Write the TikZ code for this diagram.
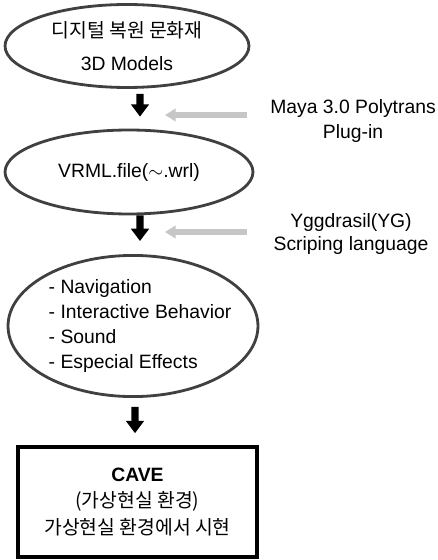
\documentclass[tikz,border=0pt]{standalone}
\usepackage{fontspec}
\setmainfont{Liberation Sans}
\newfontfamily\kr{Noto Sans CJK KR}
\usetikzlibrary{shapes.geometric,arrows.meta}

\tikzset{
  stage/.style={ellipse, draw=black!75, line width=1.6pt, inner sep=0pt,
    font=\fontsize{11}{13}\selectfont, align=center},
  cavebox/.style={rectangle, draw=black, line width=2.1pt, inner sep=0pt,
    font=\fontsize{11}{15}\selectfont, align=center},
  tool/.style={font=\fontsize{11}{10}\selectfont, align=center},
  bigarrow/.style={line width=4pt, -{Triangle[width=10pt,length=7pt]}},
  hintarrow/.style={line width=3pt, gray!45, -{Triangle[width=7pt,length=6pt]}}
}

\begin{document}
\begin{tikzpicture}[x=0.02cm, y=-0.02cm]

    % Frame of the page
    \useasboundingbox (0,0) rectangle (437,560);

    % Stages of the work flow
    \node[stage, minimum width=4.88cm, minimum height=1.66cm] (models) at (127,46)
        {{\kr 디지털 복원 문화재}\\[6pt] 3D Models};
    \node[stage, minimum width=4.96cm, minimum height=1.68cm] (vrml) at (129,172)
        {VRML.file($\sim$.wrl)};
    \node[stage, minimum width=5.0cm, minimum height=2.7cm,
        font=\fontsize{11}{14.2}\selectfont] (behav) at (133,326)
        {\makebox[0pt]{\begin{tabular}{@{\hspace{8pt}}l@{}}
          - Navigation\\- Interactive Behavior\\- Sound\\- Especial Effects
        \end{tabular}}};
    \node[cavebox, minimum width=4.78cm, minimum height=2.2cm] (cave) at (137.5,502)
        {\textbf{CAVE}\\{\kr (가상현실 환경)}\\{\kr 가상현실 환경에서 시현}};

    % Tools used between the stages
    \node[tool] (maya) at (353,121) {Maya 3.0 Polytrans\\[3pt]Plug-in};
    \node[tool] (ygg) at (351,234) {Yggdrasil(YG)\\[2pt]Scriping language};

    % Flow arrows
    \draw[bigarrow] ([xshift=0.26cm,yshift=-0.1cm]models.south) -- ([xshift=0.22cm,yshift=0.24cm]vrml.north);
    \draw[bigarrow] ([xshift=0.22cm]vrml.south) -- ([xshift=0.14cm,yshift=0.26cm]behav.north);
    \draw[bigarrow] ([xshift=0.04cm,yshift=-0.18cm]behav.south) -- ([xshift=-0.05cm,yshift=0.24cm]cave.north);

    % Tool hints
    \coordinate (mayatail) at (247,115);
    \coordinate (mayatip) at (165,115);
    \coordinate (yggtail) at (247,232);
    \coordinate (yggtip) at (165,232);
    \draw[hintarrow] (mayatail) -- (mayatip);
    \draw[hintarrow] (yggtail) -- (yggtip);

\end{tikzpicture}
\end{document}
